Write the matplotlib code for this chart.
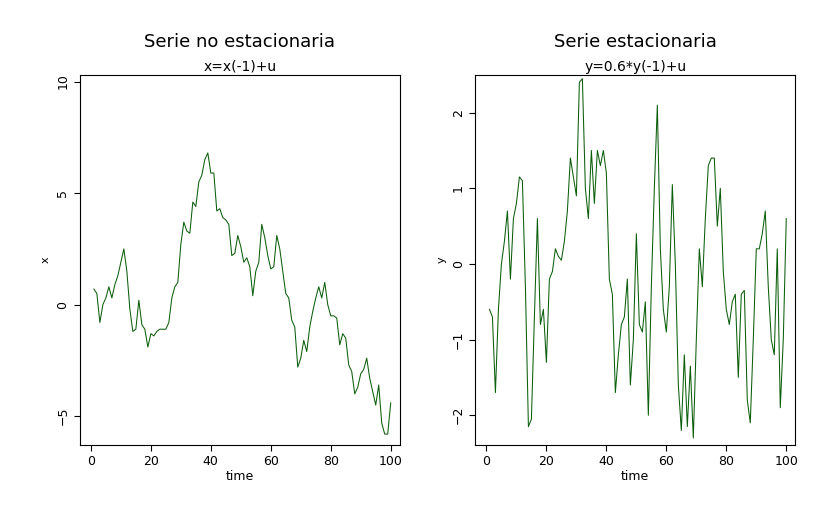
import numpy as np
import matplotlib.pyplot as plt

time = np.arange(1, 101)
x_vals = [0.7, 0.5, -0.8, 0.0, 0.3, 0.8, 0.3, 0.9, 1.3, 1.9,
          2.5, 1.5, -0.2, -1.2, -1.1, 0.2, -0.9, -1.1, -1.9, -1.3,
          -1.4, -1.2, -1.1, -1.1, -1.1, -0.8, 0.3, 0.8, 1.0, 2.7,
          3.7, 3.3, 3.2, 4.6, 4.4, 5.5, 5.8, 6.5, 6.8, 5.9,
          5.9, 4.2, 4.3, 3.9, 3.8, 3.6, 2.2, 2.3, 3.1, 2.6,
          1.9, 2.1, 1.7, 0.4, 1.5, 1.9, 3.6, 3.0, 2.2, 1.6,
          1.7, 3.1, 2.5, 1.5, 0.5, 0.3, -0.7, -1.0, -2.8, -2.4,
          -1.6, -2.1, -1.0, -0.3, 0.3, 0.8, 0.3, 1.0, 0.0, -0.5,
          -0.5, -0.6, -1.8, -1.3, -1.5, -2.7, -3.0, -4.0, -3.7, -3.1,
          -2.9, -2.4, -3.3, -3.9, -4.5, -3.6, -5.3, -5.8, -5.8, -4.4]
y_vals = [-0.6, -0.7, -1.7, -0.6, 0.0, 0.3, 0.7, -0.2, 0.6, 0.8,
          1.15, 1.1, -0.3, -2.15, -2.05, -0.7, 0.6, -0.8, -0.6, -1.3,
          -0.2, -0.1, 0.2, 0.1, 0.05, 0.3, 0.7, 1.4, 1.15, 0.9,
          2.4, 2.45, 1.0, 0.6, 1.5, 0.8, 1.5, 1.3, 1.5, 1.2,
          -0.2, -0.4, -1.7, -1.2, -0.8, -0.7, -0.2, -1.6, -1.0, 0.4,
          -0.8, -0.9, -0.5, -2.0, -0.3, 1.0, 2.1, 0.2, -0.6, -0.9,
          -0.3, 1.05, 0.0, -1.6, -2.2, -1.2, -2.15, -1.35, -2.3, -1.0,
          0.2, -0.3, 0.6, 1.3, 1.4, 1.4, 0.5, 1.0, -0.1, -0.6,
          -0.8, -0.5, -0.4, -1.5, -0.4, -0.35, -1.8, -2.1, -1.0, 0.2,
          0.2, 0.4, 0.7, -0.3, -1.0, -1.2, 0.2, -1.9, -1.0, 0.6]

fig = plt.figure(figsize=(8.31, 5.16), dpi=100)
ax1 = fig.add_axes([0.096, 0.138, 0.385, 0.717])
ax2 = fig.add_axes([0.572, 0.138, 0.385, 0.717])

panels = [
    (ax1, x_vals, "Serie no estacionaria", "x=x(-1)+u", "x", (-6.28, 10.3), [-5, 0, 5, 10]),
    (ax2, y_vals, "Serie estacionaria", "y=0.6*y(-1)+u", "y", (-2.39, 2.5), [-2, -1, 0, 1, 2]),
]
for ax, vals, title, sub, ylab, ylim, yt in panels:
    ax.plot(time, vals, color="#0b5e0b", lw=0.75)
    ax.set_xlim(-3.7, 103)
    ax.set_ylim(*ylim)
    ax.set_xticks([0, 20, 40, 60, 80, 100])
    ax.set_yticks(yt)
    ax.tick_params(axis="both", labelsize=9, direction="out", length=4)
    for lab in ax.get_yticklabels():
        lab.set_rotation(90)
        lab.set_va("center")
    ax.set_xlabel("time", fontsize=9, labelpad=1)
    ax.set_ylabel(ylab, fontsize=8)
    ax.set_title(sub, fontsize=10, pad=3)
    ax.text(0.5, 1.075, title, transform=ax.transAxes, ha="center",
            fontsize=13)

fig.savefig("out.png", dpi=100, facecolor="white")
